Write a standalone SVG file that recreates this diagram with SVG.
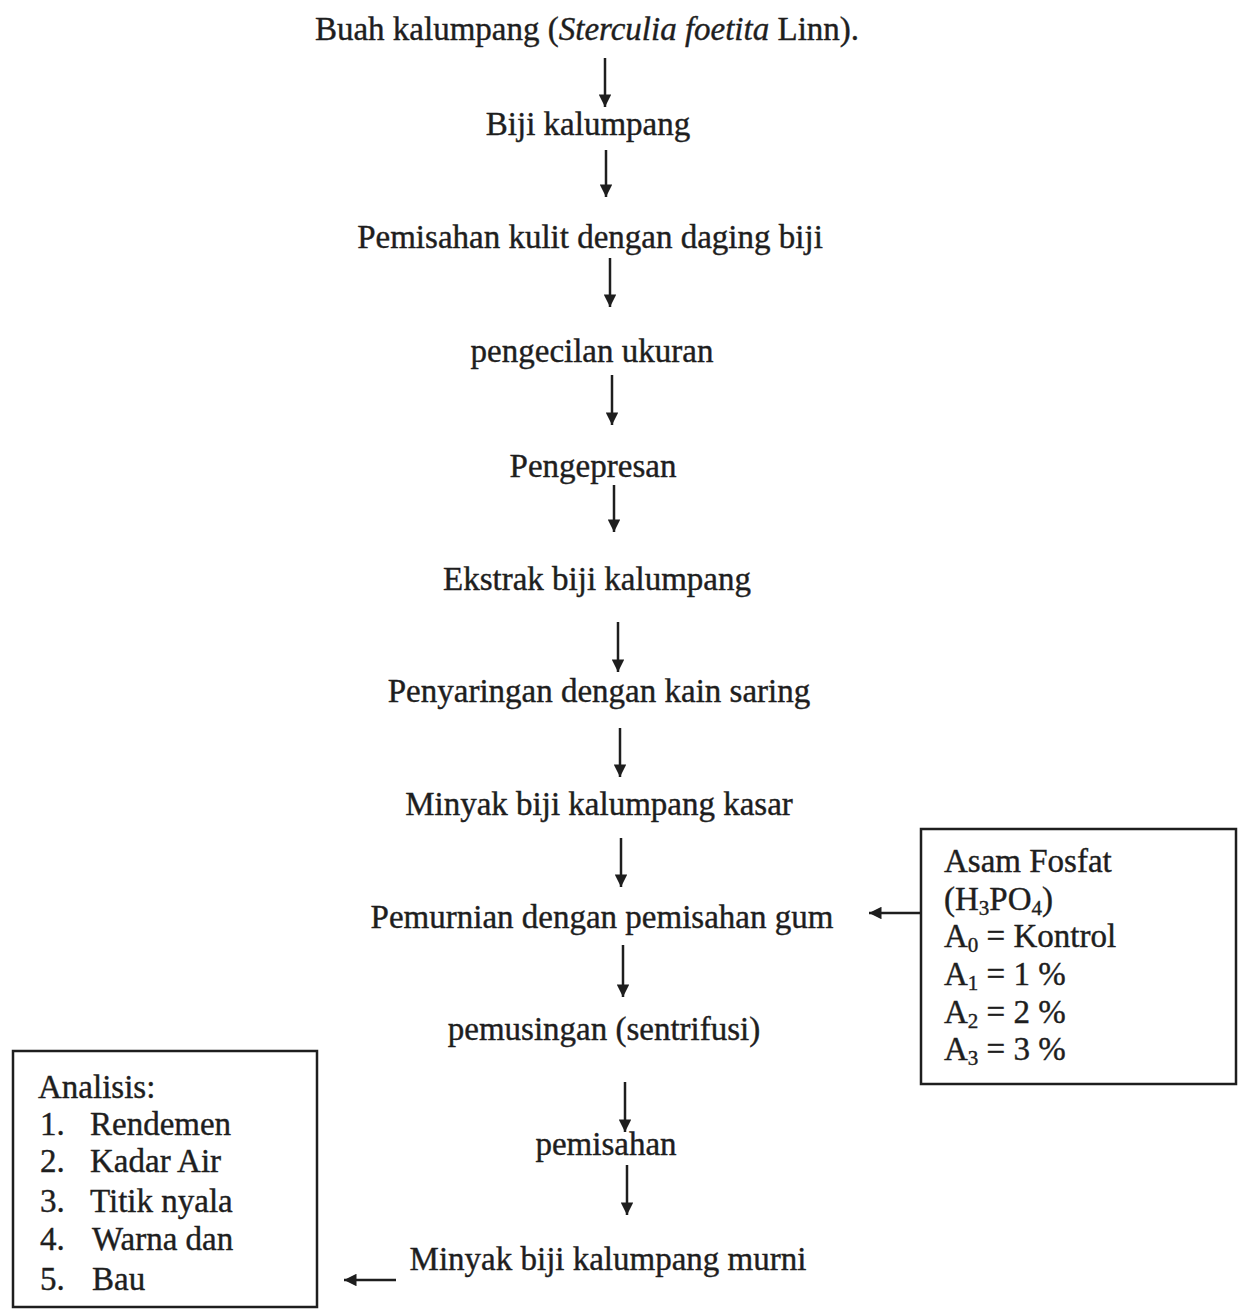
<svg xmlns="http://www.w3.org/2000/svg" width="1239" height="1311" viewBox="0 0 1239 1311">
<style>
text{font-family:"Liberation Serif","Times New Roman",serif;font-size:33px;fill:#1e1e1e;stroke:#1e1e1e;stroke-width:0.4}
.c{text-anchor:middle}
.sub{font-size:21px}
.box{fill:none;stroke:#1e1e1e;stroke-width:2.5}
.con{stroke:#1e1e1e;stroke-width:2.5;fill:none;marker-end:url(#ah)}
</style>
<defs>
<marker id="ah" viewBox="0 0 10 10" refX="10" refY="5" markerWidth="5.5" markerHeight="5" markerUnits="strokeWidth" orient="auto">
<path d="M0,0 L10,5 L0,10 z" fill="#1e1e1e"/>
</marker>
</defs>
<rect width="1239" height="1311" fill="#ffffff"/>
<g id="connectors">
<line class="con" x1="605" y1="58" x2="605" y2="107"/>
<line class="con" x1="606" y1="150" x2="606" y2="197"/>
<line class="con" x1="610" y1="258" x2="610" y2="307"/>
<line class="con" x1="612" y1="375" x2="612" y2="425"/>
<line class="con" x1="614" y1="485" x2="614" y2="532"/>
<line class="con" x1="618" y1="622" x2="618" y2="672"/>
<line class="con" x1="620" y1="728" x2="620" y2="777"/>
<line class="con" x1="621" y1="838" x2="621" y2="887"/>
<line class="con" x1="623" y1="945" x2="623" y2="997"/>
<line class="con" x1="625" y1="1082" x2="625" y2="1132"/>
<line class="con" x1="627" y1="1165" x2="627" y2="1215"/>
<line class="con" x1="921" y1="913" x2="869" y2="913"/>
<line class="con" x1="396" y1="1280" x2="344" y2="1280"/>
</g>
<g id="n1"><text class="c" x="587" y="40">Buah kalumpang (<tspan font-style="italic">Sterculia foetita</tspan> Linn).</text></g>
<g id="n2"><text class="c" x="588" y="135">Biji kalumpang</text></g>
<g id="n3"><text class="c" x="590" y="248">Pemisahan kulit dengan daging biji</text></g>
<g id="n4"><text class="c" x="592" y="362">pengecilan ukuran</text></g>
<g id="n5"><text class="c" x="593" y="477">Pengepresan</text></g>
<g id="n6"><text class="c" x="597" y="590">Ekstrak biji kalumpang</text></g>
<g id="n7"><text class="c" x="599" y="702">Penyaringan dengan kain saring</text></g>
<g id="n8"><text class="c" x="599" y="815">Minyak biji kalumpang kasar</text></g>
<g id="n9"><text class="c" x="602" y="928">Pemurnian dengan pemisahan gum</text></g>
<g id="n10"><text class="c" x="604" y="1040">pemusingan (sentrifusi)</text></g>
<g id="n11"><text class="c" x="606" y="1155">pemisahan</text></g>
<g id="n12"><text class="c" x="608" y="1270">Minyak biji kalumpang murni</text></g>
<g id="asam">
<rect class="box" x="921" y="829" width="315" height="255"/>
<text x="944" y="872">Asam Fosfat</text>
<text x="944" y="910">(H<tspan class="sub" dy="5">3</tspan><tspan dy="-5">PO</tspan><tspan class="sub" dy="5">4</tspan><tspan dy="-5">)</tspan></text>
<text x="944" y="947">A<tspan class="sub" dy="5">0</tspan><tspan dy="-5"> = Kontrol</tspan></text>
<text x="944" y="985">A<tspan class="sub" dy="5">1</tspan><tspan dy="-5"> = 1 %</tspan></text>
<text x="944" y="1023">A<tspan class="sub" dy="5">2</tspan><tspan dy="-5"> = 2 %</tspan></text>
<text x="944" y="1060">A<tspan class="sub" dy="5">3</tspan><tspan dy="-5"> = 3 %</tspan></text>
</g>
<g id="analisis">
<rect class="box" x="13" y="1051" width="304" height="256"/>
<text x="38" y="1098">Analisis:</text>
<text x="40" y="1135">1.</text><text x="90" y="1135">Rendemen</text>
<text x="40" y="1172">2.</text><text x="90" y="1172">Kadar Air</text>
<text x="40" y="1212">3.</text><text x="90" y="1212">Titik nyala</text>
<text x="40" y="1250">4.</text><text x="92" y="1250">Warna dan</text>
<text x="40" y="1290">5.</text><text x="92" y="1290">Bau</text>
</g>
</svg>
